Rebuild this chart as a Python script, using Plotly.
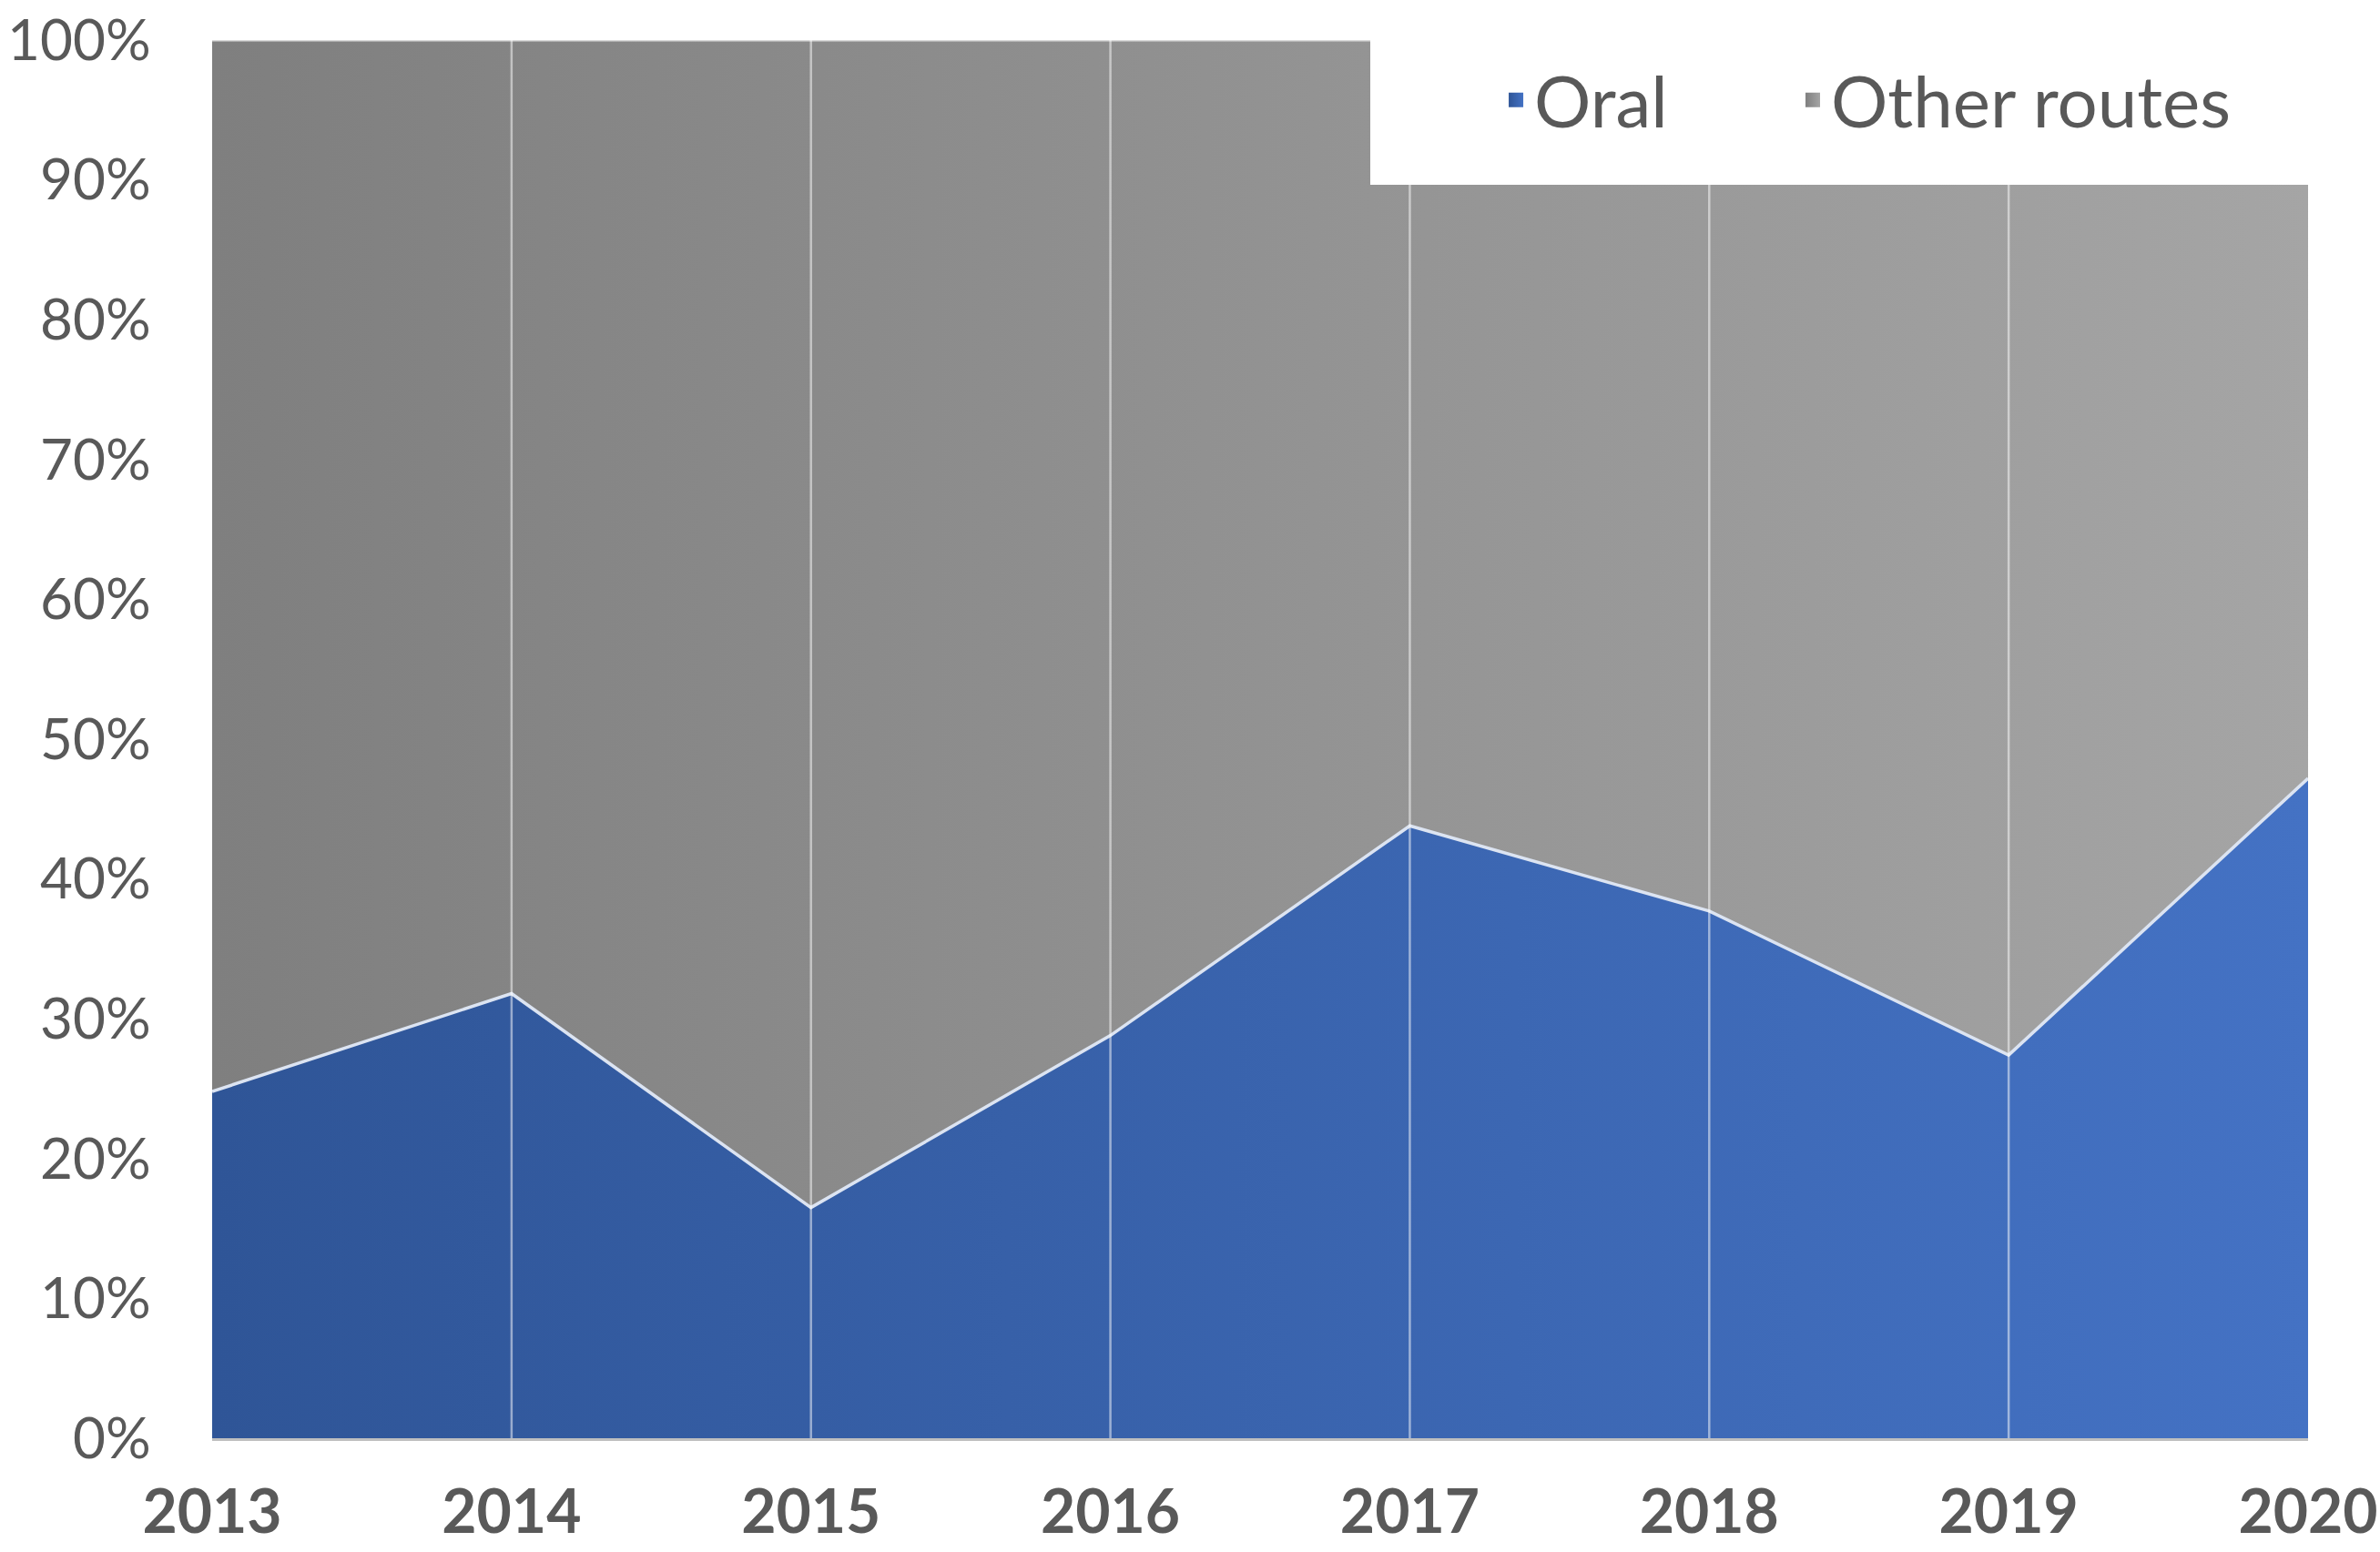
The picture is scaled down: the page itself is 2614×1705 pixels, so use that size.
import plotly.graph_objects as go

years = ["2013", "2014", "2015", "2016", "2017", "2018", "2019", "2020"]
oral = [24.8, 31.8, 16.5, 28.8, 43.8, 37.7, 27.4, 47.2]
total = [100, 100, 100, 100, 100, 100, 100, 100]
y_ticks = [0, 10, 20, 30, 40, 50, 60, 70, 80, 90, 100]
y_labels = [f"{v}%" for v in y_ticks]

BLUE_L, BLUE_R = "#2F5597", "#4472C4"
GRAY_L, GRAY_R = "#7F7F7F", "#A5A5A5"
FONT = "Lato"
TXT = "#595959"

fig = go.Figure()

fig.add_trace(go.Scatter(
    x=years, y=oral, mode="lines", name="Oral", showlegend=False,
    line=dict(color="#DCE4F2", width=3.5),
    fill="tozeroy",
    fillgradient=dict(type="horizontal", colorscale=[[0, BLUE_L], [1, BLUE_R]]),
    hoverinfo="skip",
))
fig.add_trace(go.Scatter(
    x=years, y=total, mode="lines", name="Other routes", showlegend=False,
    line=dict(color="#D9D9D9", width=3),
    fill="tonexty",
    fillgradient=dict(type="horizontal", colorscale=[[0, GRAY_L], [1, GRAY_R]]),
    hoverinfo="skip",
))

# vertical category lines
vx, vy = [], []
for i, yr in enumerate(years[1:-1], start=1):
    vx += [yr, yr, None]
    vy += [0, total[i], None]
fig.add_trace(go.Scatter(
    x=vx, y=vy, mode="lines", showlegend=False, hoverinfo="skip",
    line=dict(color="rgba(255,255,255,0.5)", width=2.5),
))

# legend entries
fig.add_trace(go.Scatter(
    x=[None], y=[None], mode="markers", name="Oral", legend="legend",
    marker=dict(symbol="square", size=16, color=BLUE_L,
                gradient=dict(type="horizontal", color=BLUE_R)),
))
fig.add_trace(go.Scatter(
    x=[None], y=[None], mode="markers", name="Other routes", legend="legend2",
    marker=dict(symbol="square", size=16, color=GRAY_L,
                gradient=dict(type="horizontal", color=GRAY_R)),
))

T, B, L, R = 44, 125, 233, 79
PH = 1705 - T - B
PW = 2614 - L - R

# white legend box
fig.add_shape(type="rect", xref="paper", yref="paper",
              x0=(1505 - L) / PW, x1=1.0, y0=1 - (203 - T) / PH, y1=1.01,
              fillcolor="white", line=dict(width=0), layer="above")

leg_y = 1 - (110 - T) / PH
leg_common = dict(orientation="h", xanchor="left", y=leg_y, yanchor="middle",
                  bgcolor="rgba(0,0,0,0)", font=dict(size=78, color=TXT, family=FONT),
                  itemsizing="trace")

fig.update_layout(
    width=2614, height=1705,
    margin=dict(l=L, r=R, t=T, b=B, autoexpand=False),
    paper_bgcolor="white", plot_bgcolor="white",
    font=dict(family=FONT, color=TXT),
    showlegend=True,
    legend=dict(x=0.6134, **leg_common),
    legend2=dict(x=0.755, **leg_common),
    xaxis=dict(type="category", categoryorder="array", categoryarray=years,
               range=[0, len(years) - 1], showgrid=False, zeroline=False,
               automargin=False, ticklabeloverflow="allow",
               showline=True, linecolor="#BFBFBF", linewidth=3,
               ticks="outside", ticklen=22, tickcolor="rgba(0,0,0,0)",
               tickfont=dict(size=66, family=FONT, color=TXT, weight="bold")),
    yaxis=dict(range=[0, 100], tickvals=y_ticks, ticktext=y_labels,
               automargin=False, ticklabeloverflow="allow",
               showgrid=False, zeroline=False, showline=False,
               ticks="outside", ticklen=54, tickcolor="rgba(0,0,0,0)",
               tickfont=dict(size=62, family=FONT, color=TXT)),
)

fig.write_html("out.html", config={"displayModeBar": False},
               post_script="document.body.style.margin='0';document.body.style.overflow='hidden';")
